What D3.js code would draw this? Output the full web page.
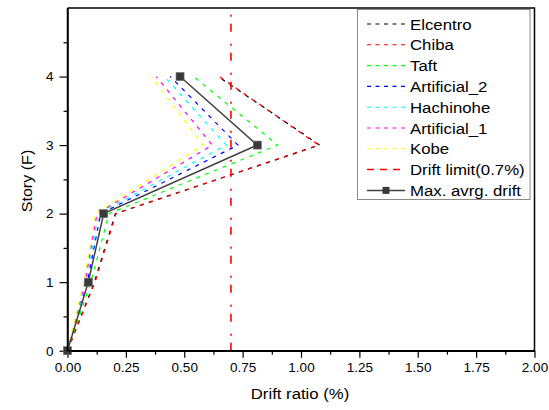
<!DOCTYPE html>
<html>
<head>
<meta charset="utf-8">
<script src="https://cdn.jsdelivr.net/npm/d3@7"></script>
<style>
  html, body { margin: 0; padding: 0; background: #fff; }
  svg { display: block; font-family: "Liberation Sans", Arial, sans-serif; }
</style>
</head>
<body>
<svg id="chart" width="549" height="410"></svg>
<script>
// Story levels and peak inter-story drift ratio (%) per ground motion
const stories = [0, 1, 2, 3, 4];
const elcentro    = [0, 0.115, 0.205, 1.080, 0.645];
const chiba       = [0, 0.118, 0.208, 1.075, 0.650];
const taft        = [0, 0.100, 0.178, 0.900, 0.540];
const artificial2 = [0, 0.085, 0.142, 0.730, 0.440];
const hachinohe   = [0, 0.080, 0.133, 0.680, 0.415];
const artificial1 = [0, 0.075, 0.126, 0.620, 0.380];
const kobe        = [0, 0.070, 0.120, 0.580, 0.360];
const maxAvgDrift = [0, 0.089, 0.155, 0.813, 0.482];
const driftLimit = 0.7;

const seriesNames = ["Elcentro", "Chiba", "Taft", "Artificial_2", "Hachinohe", "Artificial_1", "Kobe"];
const seriesValues = [elcentro, chiba, taft, artificial2, hachinohe, artificial1, kobe];
const seriesColors = ["#000000", "#ff0000", "#00ff00", "#0000ff", "#00ffff", "#ff00ff", "#ffff00"];

const xTicks = [0, 0.25, 0.5, 0.75, 1.0, 1.25, 1.5, 1.75, 2.0];
const xMinor = [0.125, 0.375, 0.625, 0.875, 1.125, 1.375, 1.625, 1.875];
const yTicks = [0, 1, 2, 3, 4];
const yMinor = [0.5, 1.5, 2.5, 3.5, 4.5];

const svg = d3.select("#chart");
const plotL = 67.5, plotR = 534.5, plotT = 8, plotB = 350.7;

const x = d3.scaleLinear().domain([0, 2]).range([plotL, plotR]);
const y = d3.scaleLinear().domain([0, 5]).range([plotB, plotT]);

// Plot frame (top and right sides)
svg.append("path")
  .attr("d", `M${plotL},${plotT}H${plotR}V${plotB}`)
  .attr("fill", "none").attr("stroke", "#000").attr("stroke-width", 1.5);

// Axes
svg.append("g").attr("transform", `translate(0,${plotB})`)
  .call(d3.axisBottom(x).tickValues(xTicks).tickFormat(d3.format(".2f"))
    .tickSize(7).tickSizeOuter(0).tickPadding(5));
svg.append("g").attr("transform", `translate(0,${plotB})`)
  .call(d3.axisBottom(x).tickValues(xMinor).tickFormat("").tickSize(4).tickSizeOuter(0))
  .select(".domain").remove();

svg.append("g").attr("transform", `translate(${plotL},0)`)
  .call(d3.axisLeft(y).tickValues(yTicks).tickFormat(d3.format("d"))
    .tickSize(8).tickSizeOuter(0).tickPadding(6));
svg.append("g").attr("transform", `translate(${plotL},0)`)
  .call(d3.axisLeft(y).tickValues(yMinor).tickFormat("").tickSize(4).tickSizeOuter(0))
  .select(".domain").remove();

svg.selectAll(".domain").attr("stroke-width", 1.5);
svg.selectAll(".tick line").attr("stroke-width", 1.2);
svg.selectAll(".tick text").attr("font-size", 13.5).attr("fill", "#000")
  .attr("font-family", "Liberation Sans, Arial, sans-serif");

// Axis titles
svg.append("text")
  .attr("transform", "translate(300,399) scale(1.1,1)")
  .attr("text-anchor", "middle").attr("font-size", 15.2).text("Drift ratio (%)");
svg.append("text")
  .attr("transform", "translate(32,181) rotate(-90) scale(1.06,1)")
  .attr("text-anchor", "middle").attr("font-size", 15.2).text("Story (F)");

const line = d3.line().x(d => x(d[0])).y(d => y(d[1]));

// Ground motion drift profiles
seriesValues.forEach((vals, i) => {
  svg.append("path")
    .datum(vals.map((v, k) => [v, stories[k]]))
    .attr("d", line)
    .attr("fill", "none")
    .attr("stroke", seriesColors[i])
    .attr("stroke-width", 1.2)
    .attr("stroke-dasharray", "4,5.5");
});

// Drift limit
svg.append("line")
  .attr("x1", x(driftLimit)).attr("x2", x(driftLimit))
  .attr("y1", plotB).attr("y2", plotT)
  .attr("stroke", "#ff0000").attr("stroke-width", 1.6)
  .attr("stroke-dasharray", "8,7,2,12");

// Maximum average drift
const avgPts = maxAvgDrift.map((v, k) => [v, stories[k]]);
svg.append("path").datum(avgPts).attr("d", line)
  .attr("fill", "none").attr("stroke", "#404040").attr("stroke-width", 1.5);
svg.selectAll("rect.avg").data(avgPts).enter().append("rect")
  .attr("class", "avg")
  .attr("x", d => x(d[0]) - 4).attr("y", d => y(d[1]) - 4)
  .attr("width", 8).attr("height", 8)
  .attr("fill", "#3a3a3a").attr("stroke", "#6a6a6a").attr("stroke-width", 0.6);

// Redraw axis lines over the marks at the origin
svg.append("path").attr("d", `M${plotL},${plotT}V${plotB}H${plotR}`)
  .attr("fill", "none").attr("stroke", "#000").attr("stroke-width", 1.5);

// Legend
const legend = svg.append("g");
legend.append("rect")
  .attr("x", 357.5).attr("y", 9.5).attr("width", 172.5).attr("height", 190)
  .attr("fill", "#fff").attr("stroke", "#8a8a8a").attr("stroke-width", 1);

const legendItems = seriesNames.map((n, i) => ({ name: n, color: seriesColors[i], kind: "dash" }))
  .concat([{ name: "Drift limit(0.7%)", color: "#ff0000", kind: "limit" },
           { name: "Max. avrg. drift", color: "#404040", kind: "avg" }]);

legendItems.forEach((item, i) => {
  const cy = 24 + i * 20.8;
  const g = legend.append("g");
  if (item.kind === "avg") {
    g.append("line").attr("x1", 367).attr("x2", 405).attr("y1", cy).attr("y2", cy)
      .attr("stroke", item.color).attr("stroke-width", 1.5);
    g.append("rect").attr("x", 382.5).attr("y", cy - 3.5).attr("width", 7).attr("height", 7)
      .attr("fill", "#3a3a3a");
  } else {
    g.append("line").attr("x1", 367).attr("x2", 405).attr("y1", cy).attr("y2", cy)
      .attr("stroke", item.color).attr("stroke-width", item.kind === "limit" ? 1.5 : 1.1)
      .attr("stroke-dasharray", item.kind === "limit" ? "7,6" : "4,4.5");
  }
  g.append("text")
    .attr("transform", `translate(410,${cy + 5.5}) scale(1.12,1)`)
    .attr("font-size", 15).attr("fill", "#000").text(item.name);
});
</script>
</body>
</html>
